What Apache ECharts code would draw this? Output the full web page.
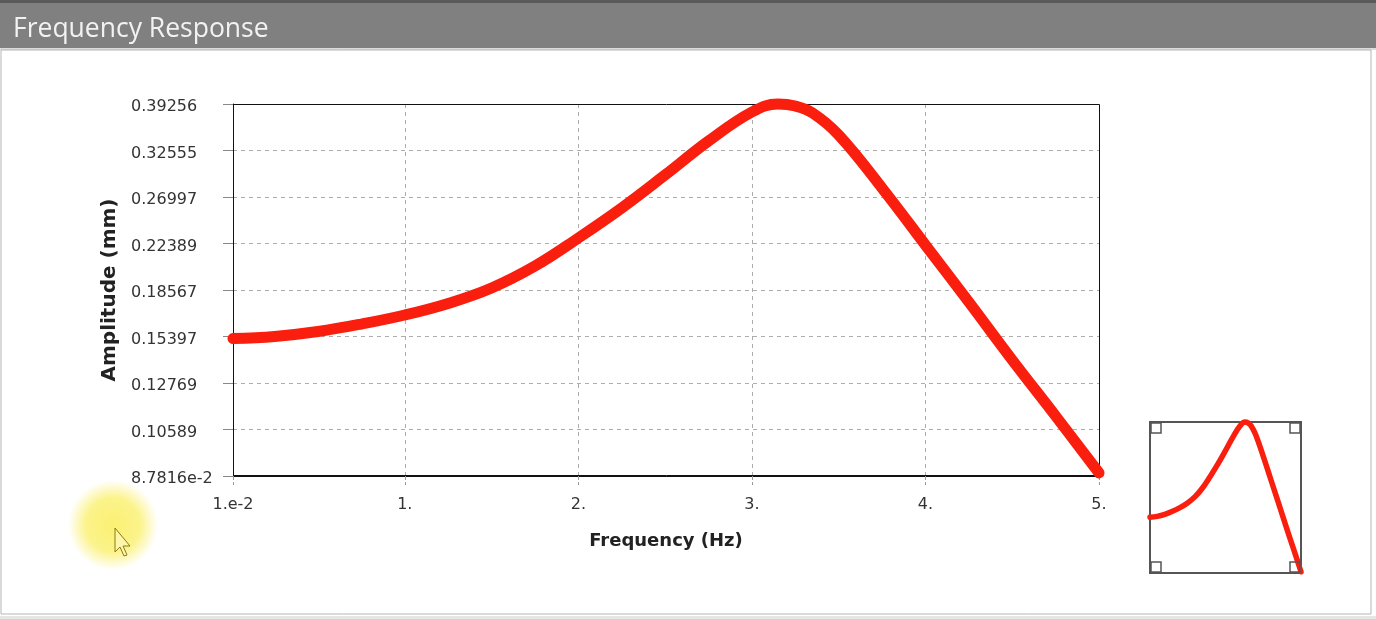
<!DOCTYPE html>
<html>
<head>
<meta charset="utf-8">
<script src="https://cdn.jsdelivr.net/npm/echarts@6/dist/echarts.min.js"></script>
<style>
html,body{margin:0;padding:0;background:#fff;}
#chart{width:1376px;height:619px;}
</style>
</head>
<body>
<div id="chart"></div>
<script>
// ---- data ----
const frequencies = [0.01, 0.25, 0.5, 0.75, 1.0, 1.25, 1.5, 1.75, 2.0, 2.25, 2.5, 2.75, 3.0, 3.15, 3.25, 3.35, 3.5, 3.75, 4.0, 4.25, 4.5, 4.75, 5.0];
const amplitudes  = [0.1527, 0.1540, 0.1571, 0.1619, 0.1679, 0.1759, 0.1872, 0.2045, 0.2289, 0.2583, 0.2950, 0.3382, 0.3801, 0.3926, 0.3894, 0.3786, 0.3465, 0.2799, 0.2225, 0.1769, 0.1401, 0.1118, 0.0889];
const yTickLabels = ['8.7816e-2', '0.10589', '0.12769', '0.15397', '0.18567', '0.22389', '0.26997', '0.32555', '0.39256'];
const yTickValues = [0.087816, 0.10589, 0.12769, 0.15397, 0.18567, 0.22389, 0.26997, 0.32555, 0.39256];
const xTickValues = [0.01, 1, 2, 3, 4, 5];
const xTickLabels = ['1.e-2', '1.', '2.', '3.', '4.', '5.'];
const titleText = 'Frequency Response';
const xName = 'Frequency (Hz)';
const yName = 'Amplitude (mm)';

// logarithmic y scale expressed as tick-step index (0 .. 8)
const lnMin = Math.log(yTickValues[0]);
const lnMax = Math.log(yTickValues[yTickValues.length - 1]);
const steps = yTickValues.length - 1;
function logIndex(v) { return (Math.log(v) - lnMin) / (lnMax - lnMin) * steps; }
const seriesData = frequencies.map((f, i) => [f, logIndex(amplitudes[i])]);

const chart = echarts.init(document.getElementById('chart'));
const FONT = 'DejaVu Sans';
const RED = '#fa1e0e';

const option = {
  animation: false,
  backgroundColor: '#ffffff',
  graphic: [
    { type: 'rect', z: 0, shape: { x: 0, y: 0, width: 1376, height: 3 }, style: { fill: '#5a5a5a' } },
    { type: 'rect', z: 0, shape: { x: 0, y: 3, width: 1376, height: 45 }, style: { fill: '#808080' } },
    { type: 'rect', z: 0, shape: { x: 0, y: 48, width: 1376, height: 2 }, style: { fill: '#dcdcdc' } },
    { type: 'rect', z: 0, shape: { x: 1, y: 50, width: 1370, height: 564 }, style: { fill: 'none', stroke: '#b5b5b5', lineWidth: 1 } },
    { type: 'rect', z: 0, shape: { x: 0, y: 616, width: 1376, height: 3 }, style: { fill: '#e6e6e6' } },
    { type: 'text', z: 5, left: 13, top: 16, style: { text: titleText, fill: '#f2f2f2', font: '26.5px "Open Sans"' } },
    // inset corner squares
    { type: 'rect', z: 10, shape: { x: 1151, y: 423, width: 10, height: 10 }, style: { fill: 'none', stroke: '#555', lineWidth: 1.5 } },
    { type: 'rect', z: 10, shape: { x: 1290, y: 423, width: 10, height: 10 }, style: { fill: 'none', stroke: '#555', lineWidth: 1.5 } },
    { type: 'rect', z: 10, shape: { x: 1151, y: 562, width: 10, height: 10 }, style: { fill: 'none', stroke: '#555', lineWidth: 1.5 } },
    { type: 'rect', z: 10, shape: { x: 1290, y: 562, width: 10, height: 10 }, style: { fill: 'none', stroke: '#555', lineWidth: 1.5 } },
    // plot frame drawn on top of grid lines
    { type: 'rect', z: 3, shape: { x: 233.5, y: 104.5, width: 866, height: 371 }, style: { fill: 'none', stroke: '#111', lineWidth: 1 } },
    // cursor highlight
    { type: 'circle', z: 20, shape: { cx: 113, cy: 525, r: 45 },
      style: { fill: { type: 'radial', x: 0.5, y: 0.5, r: 0.5, colorStops: [
        { offset: 0, color: 'rgba(250,238,90,0.85)' }, { offset: 0.6, color: 'rgba(250,238,90,0.7)' }, { offset: 1, color: 'rgba(250,238,90,0)' }] } } },
    { type: 'polygon', z: 21, shape: { points: [[115,528],[115,552],[120,547],[124,556],[127,555],[123,546],[130,546]] },
      style: { fill: 'rgba(255,250,200,0.6)', stroke: '#8a7a10', lineWidth: 1 } }
  ],
  grid: [
    { left: 233, top: 104, width: 866, height: 372, show: false, outerBoundsMode: 'none', containLabel: false },
    { left: 1150, top: 422, width: 151, height: 151, show: true, borderColor: '#555', borderWidth: 2, outerBoundsMode: 'none', containLabel: false }
  ],
  xAxis: [
    {
      type: 'value', gridIndex: 0, min: 0.01, max: 5,
      name: xName, nameLocation: 'middle', nameGap: 56,
      nameTextStyle: { fontFamily: FONT, fontWeight: 'bold', fontSize: 18, color: '#222' },
      axisLine: { show: true, lineStyle: { color: '#111', width: 1 } },
      axisTick: { show: true, length: 9, lineStyle: { color: '#999', type: 'dashed' } },
      splitLine: { show: true, showMinLine: false, showMaxLine: false, lineStyle: { color: '#adadad', type: [4, 4], width: 1 } },
      axisLabel: {
        show: true, margin: 21, fontFamily: FONT, fontSize: 16, color: '#333',
        showMinLabel: true, showMaxLabel: true,
        formatter: v => { const i = xTickValues.findIndex(t => Math.abs(t - v) < 1e-6); return i >= 0 ? xTickLabels[i] : ''; }
      }
    },
    { type: 'value', gridIndex: 1, min: 0.01, max: 5, show: false, splitLine: { show: false } }
  ],
  yAxis: [
    {
      type: 'value', gridIndex: 0, min: 0, max: steps, interval: 1,
      name: yName, nameLocation: 'middle', nameGap: 100,
      nameTextStyle: { fontFamily: FONT, fontWeight: 'bold', fontSize: 20, color: '#222' },
      axisLine: { show: true, lineStyle: { color: '#111', width: 1 } },
      axisTick: { show: true, length: 10, lineStyle: { color: '#888' } },
      splitLine: { show: true, showMinLine: false, showMaxLine: false, lineStyle: { color: '#adadad', type: [4, 4], width: 1 } },
      axisLabel: {
        show: true, margin: 102, align: 'left', verticalAlign: 'top', lineHeight: 6,
        fontFamily: FONT, fontSize: 16, color: '#333',
        formatter: v => yTickLabels[Math.round(v)]
      }
    },
    { type: 'value', gridIndex: 1, min: 0, max: steps, show: false, splitLine: { show: false } }
  ],
  series: [
    {
      type: 'line', xAxisIndex: 0, yAxisIndex: 0, data: seriesData, z: 5,
      smooth: 0.4, showSymbol: false, clip: false,
      lineStyle: { color: RED, width: 11, cap: 'round', join: 'round' }
    },
    {
      type: 'line', xAxisIndex: 1, yAxisIndex: 1, data: seriesData,
      smooth: 0.4, showSymbol: false, clip: false,
      lineStyle: { color: RED, width: 5.5, cap: 'round', join: 'round' }
    }
  ]
};
chart.setOption(option);
</script>
</body>
</html>
